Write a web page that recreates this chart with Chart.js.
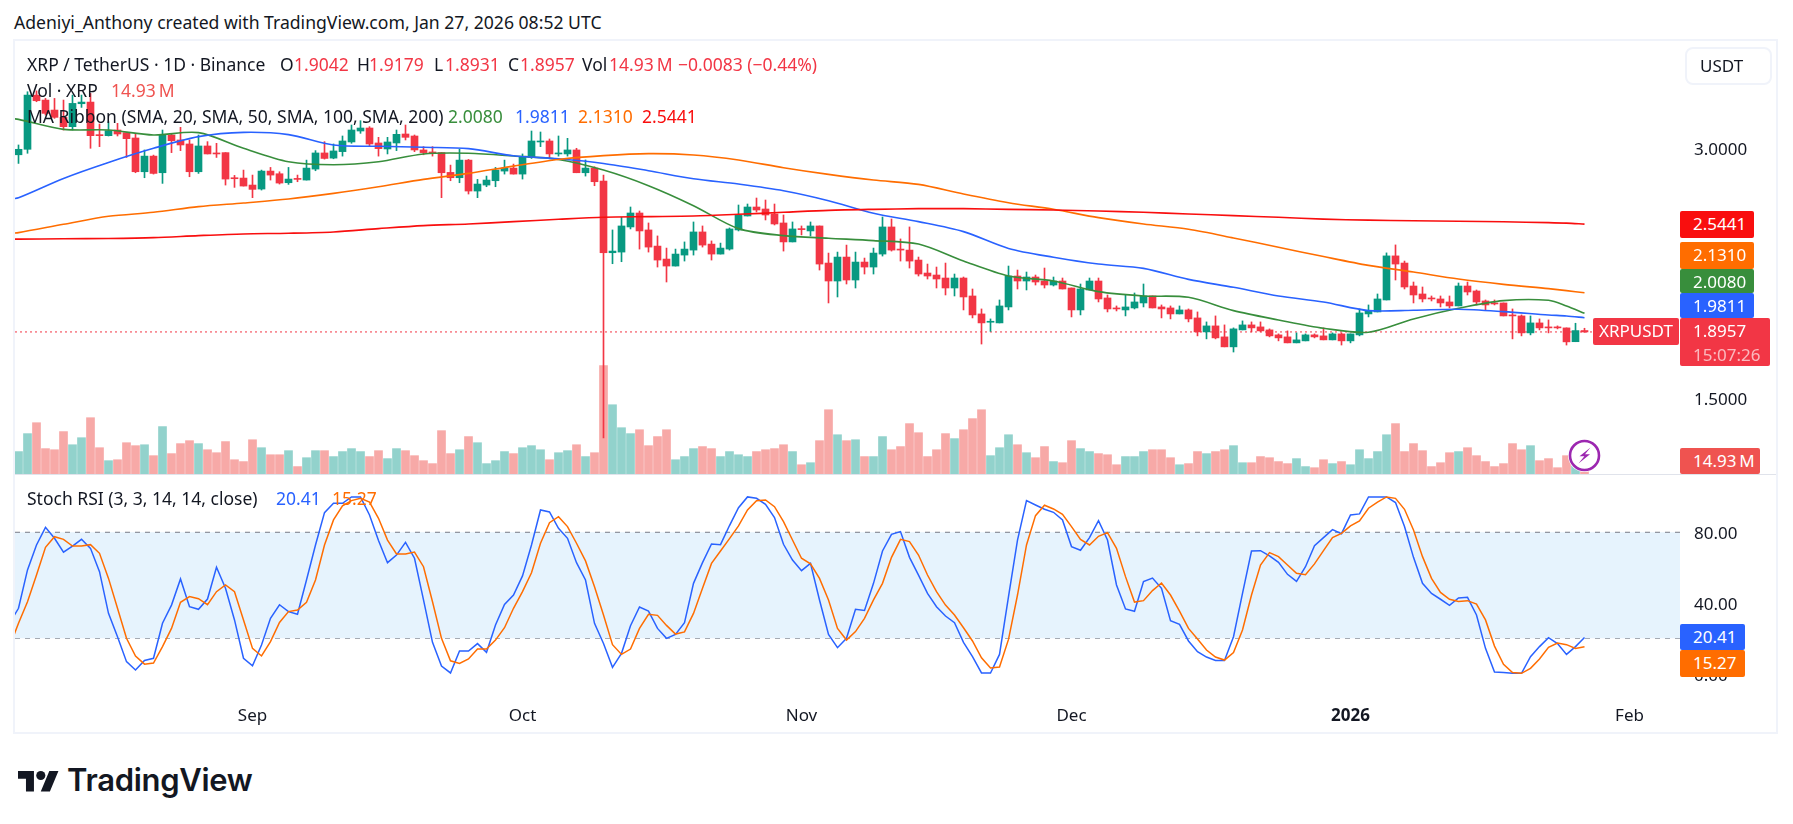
<!DOCTYPE html>
<html>
<head>
<meta charset="utf-8">
<title>XRP / TetherUS</title>
<script src="https://cdn.jsdelivr.net/npm/chart.js@4"></script>
<style>
  html, body { margin: 0; background: #fff; }
  body { width: 1793px; height: 824px; position: relative; overflow: hidden; font-family: "Noto Sans", sans-serif; color: #131722; }
  canvas { position: absolute; left: 15px; }
  #frame { position: absolute; left: 13px; top: 39px; width: 1761px; height: 691px; border: 2px solid #f0f3fa; }
  #divider { position: absolute; left: 15px; top: 474px; width: 1761px; height: 1px; background: #e0e3eb; }
  .line { position: absolute; left: 27px; font-size: 17.5px; line-height: 20px; white-space: nowrap; }
  .line span { position: absolute; top: 0; }
  #credit { position: absolute; left: 14px; top: 12px; font-size: 17.6px; line-height: 20px; white-space: nowrap; }
  .tag { position: absolute; color: #fff; font-size: 17px; line-height: 26px; border-radius: 2px; box-sizing: border-box; padding-left: 13px; white-space: nowrap; }
  #unit { position: absolute; left: 1685px; top: 47px; width: 87px; height: 38px; box-sizing: border-box; border: 2px solid #f0f3fa; border-radius: 8px; padding-left: 13px; font-size: 17px; line-height: 34px; }
  #logo { position: absolute; left: 18px; top: 762px; display: flex; align-items: center; }
  #logo b { font-family: Inter, sans-serif; font-weight: 600; font-size: 31px; letter-spacing: -0.3px; margin-left: 8px; line-height: 36px; }
  #flash { position: absolute; left: 1567px; top: 438px; }
</style>
</head>
<body>
<div id="frame"></div>
<div id="credit">Adeniyi_Anthony created with TradingView.com, Jan 27, 2026 08:52 UTC</div>
<canvas id="chart-price" width="1760" height="433" style="top:41px"></canvas>
<canvas id="chart-stoch" width="1760" height="256" style="top:475px"></canvas>
<div id="divider"></div>
<div id="overlay"></div>
<div id="unit">USDT</div>
<svg id="flash" width="35" height="35" viewBox="0 0 35 35">
  <circle cx="17.5" cy="17.5" r="16.5" fill="#fff"/>
  <circle cx="17.5" cy="17.5" r="14.5" fill="#fff" stroke="#9c27b0" stroke-width="2.6"/>
  <path d="M23.5 9.5 L12.5 18.2 L17.4 18.2 L11.5 25.5 L23 16.2 L18 16.2 Z" fill="#9c27b0"/>
</svg>
<div id="logo">
  <svg width="41" height="32" viewBox="0 0 36 28"><path d="M14 24H7V13H0V6h14v18zM28 24h-8l7.5-18h8L28 24z" fill="#131722"/><circle cx="20" cy="10" r="4" fill="#131722"/></svg>
  <b>TradingView</b>
</div>
<script>
// daily XRP/USDT candles, 6 Aug 2025 to 27 Jan 2026, 25 values to a row
const opens = [
  2.961,2.994,3.320,3.290,3.230,3.186,3.130,3.268,3.278,3.080,3.076,3.110,3.094,3.062,2.859,2.953,2.853,3.080,3.050,3.026,2.859,3.014,2.972,2.974,2.823,
  2.821,2.779,2.755,2.863,2.847,2.793,2.819,2.809,2.875,2.972,2.941,2.980,3.038,3.104,3.122,3.032,2.996,3.032,3.086,3.074,2.990,2.976,2.974,2.855,2.823,
  2.929,2.743,2.779,2.805,2.863,2.881,2.845,2.945,3.038,3.044,2.966,2.966,2.990,2.853,2.881,2.803,2.372,2.376,2.527,2.611,2.509,2.412,2.334,2.292,2.358,
  2.388,2.497,2.424,2.364,2.394,2.509,2.593,2.647,2.635,2.605,2.551,2.437,2.517,2.503,2.533,2.310,2.202,2.346,2.208,2.316,2.286,2.364,2.527,2.394,2.388,
  2.328,2.250,2.238,2.220,2.160,2.220,2.112,2.004,1.954,1.950,2.046,2.232,2.202,2.226,2.202,2.178,2.202,2.160,2.028,2.148,2.202,2.100,2.040,2.028,2.040,
  2.070,2.112,2.046,2.040,2.004,2.028,1.980,1.896,1.932,1.866,1.806,1.908,1.938,1.926,1.908,1.878,1.866,1.830,1.842,1.878,1.872,1.848,1.884,1.842,1.878,
  2.004,2.016,2.088,2.353,2.310,2.172,2.124,2.100,2.094,2.076,2.052,2.172,2.142,2.082,2.068,2.070,1.998,1.992,1.890,1.950,1.926,1.926,1.920,1.837,1.9042
];
const closes = [
  2.994,3.320,3.286,3.210,3.186,3.130,3.270,3.278,3.076,3.076,3.106,3.086,3.058,2.859,2.953,2.849,3.080,3.046,3.020,2.859,3.014,2.966,2.966,2.815,2.817,
  2.773,2.753,2.863,2.839,2.791,2.815,2.813,2.881,2.972,2.939,2.984,3.044,3.110,3.122,3.026,2.998,3.038,3.084,3.066,2.990,2.974,2.972,2.853,2.823,2.929,
  2.743,2.785,2.809,2.869,2.881,2.845,2.949,3.044,3.044,2.966,2.972,2.990,2.853,2.881,2.799,2.372,2.382,2.533,2.611,2.503,2.406,2.328,2.292,2.364,2.394,
  2.497,2.418,2.364,2.400,2.515,2.599,2.647,2.629,2.599,2.545,2.437,2.515,2.511,2.533,2.304,2.202,2.346,2.208,2.316,2.286,2.370,2.527,2.388,2.388,2.322,
  2.244,2.232,2.214,2.160,2.220,2.106,1.998,1.950,1.960,2.052,2.232,2.202,2.226,2.196,2.178,2.202,2.154,2.028,2.154,2.202,2.094,2.034,2.034,2.046,2.076,
  2.112,2.040,2.034,2.004,2.028,1.974,1.896,1.932,1.860,1.806,1.914,1.938,1.920,1.902,1.872,1.860,1.830,1.848,1.878,1.866,1.848,1.884,1.842,1.884,2.010,
  2.022,2.094,2.353,2.304,2.166,2.118,2.094,2.094,2.070,2.052,2.172,2.136,2.076,2.058,2.064,1.992,1.992,1.890,1.950,1.920,1.920,1.920,1.836,1.904,1.8957
];
const highs = [
  3.020,3.340,3.345,3.300,3.300,3.290,3.320,3.320,3.330,3.146,3.160,3.150,3.094,3.086,2.990,2.959,3.110,3.086,3.126,3.050,3.080,3.040,3.030,2.974,2.837,
  2.869,2.839,2.869,2.885,2.859,2.885,2.839,2.929,2.986,3.040,3.026,3.074,3.140,3.166,3.130,3.066,3.066,3.110,3.140,3.080,3.010,3.010,2.974,2.899,2.994,
  2.933,2.813,2.833,2.885,2.929,2.905,2.966,3.104,3.098,3.056,3.074,3.060,3.000,2.930,2.889,2.839,2.509,2.585,2.647,2.623,2.551,2.473,2.400,2.394,2.437,
  2.557,2.533,2.443,2.430,2.521,2.659,2.665,2.701,2.689,2.665,2.599,2.557,2.533,2.557,2.533,2.370,2.376,2.418,2.376,2.340,2.400,2.587,2.575,2.455,2.527,
  2.346,2.304,2.286,2.310,2.244,2.226,2.154,2.034,1.974,2.088,2.292,2.268,2.256,2.238,2.280,2.226,2.220,2.160,2.184,2.220,2.220,2.118,2.052,2.118,2.130,
  2.184,2.112,2.058,2.052,2.052,2.034,2.016,1.956,1.992,1.938,1.920,1.962,1.956,1.956,1.914,1.884,1.902,1.890,1.884,1.884,1.920,1.890,1.890,1.884,2.034,
  2.058,2.124,2.371,2.419,2.322,2.196,2.166,2.112,2.112,2.112,2.190,2.196,2.148,2.088,2.088,2.070,2.034,1.998,1.992,1.974,1.968,1.932,1.920,1.948,1.9179
];
const lows = [
  2.909,2.970,3.280,3.200,3.180,3.110,3.110,3.246,3.000,3.010,3.074,3.074,2.945,2.853,2.823,2.845,2.789,2.974,2.986,2.829,2.849,2.966,2.945,2.779,2.765,
  2.773,2.703,2.749,2.809,2.785,2.783,2.799,2.809,2.865,2.935,2.937,2.953,3.030,3.090,3.014,2.953,2.966,2.986,3.050,2.980,2.961,2.953,2.703,2.805,2.793,
  2.725,2.703,2.769,2.769,2.845,2.845,2.815,2.939,3.010,2.941,2.953,2.953,2.853,2.833,2.775,1.258,2.306,2.318,2.515,2.394,2.376,2.286,2.196,2.292,2.322,
  2.358,2.406,2.328,2.364,2.388,2.503,2.593,2.617,2.569,2.539,2.382,2.437,2.479,2.473,2.268,2.070,2.106,2.184,2.160,2.244,2.244,2.352,2.382,2.322,2.280,
  2.232,2.214,2.160,2.118,2.112,2.028,1.980,1.823,1.899,1.950,2.028,2.154,2.148,2.178,2.160,2.172,2.154,1.986,1.998,2.148,2.076,2.016,2.022,1.992,2.034,
  2.046,2.040,1.980,1.974,2.004,1.956,1.872,1.854,1.854,1.806,1.775,1.908,1.896,1.896,1.866,1.842,1.830,1.830,1.842,1.860,1.848,1.848,1.817,1.830,1.872,
  1.986,2.016,2.088,2.208,2.154,2.070,2.076,2.082,2.046,2.040,2.052,2.118,2.058,2.028,2.058,1.992,1.854,1.872,1.878,1.908,1.890,1.914,1.817,1.837,1.8931
];
// volume in millions of XRP
const volumes = [
  121,218,277,137,131,229,158,196,304,142,72,77,169,153,158,99,256,110,164,180,164,131,115,175,77,
  67,185,142,104,104,126,40,88,126,126,94,121,137,121,94,126,83,137,126,99,72,56,234,110,131,
  202,169,56,72,121,110,142,153,131,77,115,126,158,94,115,585,374,250,218,239,153,202,239,77,94,
  137,148,137,94,121,104,94,121,131,137,158,121,50,61,180,347,212,180,185,94,94,202,131,148,272,
  223,94,131,218,191,239,299,347,99,142,212,158,115,88,148,67,61,180,137,121,110,104,50,94,94,
  121,131,131,88,50,56,121,110,121,131,153,61,61,94,88,67,56,83,40,34,77,56,67,50,131,
  83,121,212,272,121,164,126,40,61,115,121,142,99,67,40,56,164,131,153,72,83,34,99,45,14.93
];
const stochK = [
  37.0,58.7,72.8,82.8,76.6,68.7,72.2,76.0,70.9,57.7,34.1,20.9,6.8,2.1,7.5,8.7,28.5,38.8,53.6,37.9,36.4,42.2,60.2,48.3,30.4,
  8.7,4.5,16.2,31.3,39.0,35.1,33.6,53.0,72.8,91.1,96.4,96.4,100,100,89.8,75.3,62.8,67.1,74.3,65.3,41.7,17.7,4.3,0.4,12.8,
  12.8,17.0,12.1,27.5,39.2,44.5,55.3,72.8,92.6,91.5,82.2,76.6,62.8,53.0,28.5,17.1,3.6,11.5,27.1,37.7,35.4,25.6,20.0,22.2,28.8,
  51.1,62.8,73.4,73.0,83.8,93.9,100,99.2,95.8,88.3,73.2,64.3,58.3,62.4,41.7,22.2,14.7,20.0,36.4,35.8,51.1,69.4,78.8,80.4,65.8,
  55.8,45.4,37.9,32.6,28.8,17.7,9.6,0.4,0.4,10.9,43.6,75.6,97.9,95.4,93.0,91.3,87.0,71.9,69.8,77.0,86.6,75.6,50.2,36.6,35.3,
  52.1,54.1,48.3,30.0,27.9,18.5,12.4,9.4,7.5,7.5,20.9,45.4,69.4,69.6,66.6,63.0,56.2,52.2,60.5,72.4,77.0,81.5,79.2,89.8,90.4,
  100,100,100,96.8,83.2,65.8,51.1,45.4,42.1,38.7,42.8,43.2,33.2,14.3,0.9,0.6,0.2,0.2,9.6,15.3,20.4,17.0,10.9,15.3,20.41
];
const stochD = [
  28.5,40.7,55.8,71.5,77.5,76.0,72.2,72.2,73.0,68.1,53.9,37.0,20.0,10.0,5.4,6.0,15.3,25.6,40.4,43.6,42.4,39.0,46.4,50.2,46.4,
  30.4,14.3,10.0,18.1,29.0,35.1,36.0,40.4,53.0,72.8,87.0,94.9,97.9,99.2,97.1,87.9,75.6,67.7,67.7,68.8,60.5,40.7,20.0,7.3,5.8,
  8.3,13.9,13.9,19.0,26.0,37.0,46.4,57.1,73.8,85.4,88.8,83.2,73.8,63.8,49.2,33.2,16.4,10.9,13.9,25.6,33.6,33.0,27.3,22.4,23.6,
  34.1,48.3,62.4,69.4,76.4,83.6,92.6,97.9,98.3,94.5,86.0,75.6,65.3,62.1,53.9,41.7,25.6,19.0,23.8,31.3,41.7,51.1,65.8,76.0,74.7,
  67.1,55.8,46.4,38.8,33.2,26.0,18.5,9.0,3.2,3.8,19.4,44.5,72.8,89.4,95.3,93.2,90.2,83.2,76.0,72.8,77.7,79.8,70.9,54.9,40.5,
  41.3,47.0,51.3,44.5,35.4,25.6,19.6,13.4,9.4,7.7,11.9,24.7,44.5,61.5,68.5,66.2,61.5,56.8,56.0,62.1,69.6,77.0,79.4,83.6,86.4,
  93.6,97.0,100,99.2,93.0,81.3,66.2,53.9,46.0,42.1,40.9,41.3,39.4,30.4,15.6,5.3,0.6,0.2,3.0,8.3,14.9,17.3,16.4,14.3,15.27
];
// stochastic values the day before the first candle, cut off by the plot edge
const stochKBefore = 28.5;
const stochDBefore = 15.3;

// moving averages are read every fifth day, day 0 being 6 Aug
const maDays = [-1,0,5,10,15,20,25,30,35,40,45,50,55,60,65,70,75,80,85,90,95,100,105,110,115,120,125,130,135,140,145,150,155,160,165,170,172,174];
const sma20 = [3.180,3.174,3.114,3.110,3.080,3.094,3.000,2.919,2.901,2.919,2.966,2.970,2.954,2.933,2.869,2.775,2.655,2.517,2.475,2.459,2.445,2.424,2.322,2.232,2.202,2.138,2.112,2.104,2.024,1.968,1.918,1.894,1.974,2.038,2.084,2.086,2.052,2.0080];
const sma50 = [2.695,2.703,2.819,2.915,3.000,3.070,3.096,3.082,3.020,3.012,3.006,2.998,2.955,2.937,2.909,2.865,2.817,2.785,2.745,2.685,2.609,2.559,2.499,2.398,2.345,2.304,2.278,2.212,2.164,2.112,2.076,2.024,2.026,2.032,2.018,1.998,1.992,1.9811];
const sma100 = [2.488,2.493,2.543,2.591,2.615,2.649,2.671,2.695,2.729,2.769,2.813,2.849,2.893,2.933,2.956,2.968,2.960,2.930,2.883,2.843,2.809,2.783,2.725,2.673,2.633,2.583,2.545,2.513,2.461,2.405,2.349,2.296,2.256,2.214,2.182,2.156,2.144,2.1310];
const sma200 = [2.454,2.454,2.456,2.458,2.463,2.475,2.485,2.489,2.497,2.517,2.535,2.545,2.559,2.573,2.585,2.589,2.593,2.603,2.615,2.627,2.633,2.637,2.637,2.633,2.629,2.623,2.615,2.605,2.595,2.585,2.574,2.568,2.564,2.561,2.558,2.553,2.550,2.5441];

const dateTicks = [26, 56, 87, 117, 148, 179];
const dateLabels = ["Sep", "Oct", "Nov", "Dec", "2026", "Feb"];
const priceTicks = [3, 1.5];
const stochTicks = [80, 40, 0];

const UP = "#089981", DOWN = "#f23645";
const UP_VOL = "#92d2cc", DOWN_VOL = "#f7a9a7";
const GREEN = "#388e3c", BLUE = "#2962ff", ORANGE = "#ff6d00", RED = "#f90e0e";
const FONT = "'Noto Sans', sans-serif";
const last = closes.length - 1;

// 9px per day on a 1665px wide plot
const xRange = { min: -0.389, max: 184.611 };

function isUp(i) { return closes[i] >= opens[i]; }

function lineData(days, series) {
  return series.map((y, i) => ({ x: days[i], y }));
}

function maDataset(label, series, color, order) {
  return { type: "line", label, data: lineData(maDays, series), borderColor: color, borderWidth: 1.6, pointRadius: 0, tension: 0.3, order };
}

function barDataset(label, data, color, thickness, yAxisID, order) {
  return { type: "bar", label, data, backgroundColor: color, barThickness: thickness, grouped: false, minBarLength: 1, borderWidth: 0, yAxisID, order };
}

function level(value, color, extra) {
  return { type: "line", data: [{ x: xRange.min, y: value }, { x: xRange.max, y: value }], borderColor: color, borderWidth: 1, pointRadius: 0, order: 5, ...extra };
}

function baseOptions() {
  return {
    responsive: false,
    animation: false,
    events: [],
    layout: { padding: 0 },
    plugins: { legend: { display: false }, tooltip: { enabled: false } }
  };
}

function valueAxis(ticks, digits, min, max) {
  return {
    type: "linear",
    position: "right",
    offset: false,
    min,
    max,
    grid: { display: false, drawTicks: false },
    border: { display: false },
    afterBuildTicks: axis => { axis.ticks = ticks.map(value => ({ value })); },
    // panes are stacked edge to edge, so tick labels must not pad the plot
    afterFit: axis => { axis.width = 95; axis.paddingTop = 0; axis.paddingBottom = 0; },
    ticks: { color: "#131722", padding: 14, labelOffset: 2, font: { family: FONT, size: 17 }, callback: v => v.toFixed(digits) }
  };
}

function createPriceChart() {
  const days = opens.map((_, i) => i);
  return new Chart(document.getElementById("chart-price"), {
    data: {
      datasets: [
        maDataset("SMA 20", sma20, GREEN, 3),
        maDataset("SMA 50", sma50, BLUE, 2),
        maDataset("SMA 100", sma100, ORANGE, 1),
        maDataset("SMA 200", sma200, RED, 0),
        barDataset("Candle body", days.map(i => ({ x: i, y: [opens[i], closes[i]] })), days.map(i => isUp(i) ? UP : DOWN), 7, "y", 6),
        barDataset("Candle wick", days.map(i => ({ x: i, y: [lows[i], highs[i]] })), days.map(i => isUp(i) ? UP : DOWN), 1, "y", 7),
        level(closes[last], DOWN, { borderDash: [2, 3], order: 8 }),
        barDataset("Volume", days.map(i => ({ x: i, y: volumes[i] })), days.map(i => isUp(i) ? UP_VOL : DOWN_VOL), 8, "volume", 9)
      ]
    },
    options: {
      ...baseOptions(),
      scales: {
        x: { type: "linear", display: false, offset: false, ...xRange },
        y: valueAxis(priceTicks, 4, 1.0415, 3.6452),
        volume: { type: "linear", display: false, offset: false, min: 0, max: 2338 }
      }
    }
  });
}

function createStochChart() {
  const days = stochK.map((_, i) => i);
  return new Chart(document.getElementById("chart-stoch"), {
    data: {
      datasets: [
        { type: "line", data: [{ x: -1, y: stochKBefore }, ...lineData(days, stochK)], borderColor: BLUE, borderWidth: 1.5, pointRadius: 0, order: 1 },
        { type: "line", data: [{ x: -1, y: stochDBefore }, ...lineData(days, stochD)], borderColor: ORANGE, borderWidth: 1.5, pointRadius: 0, order: 0 },
        level(80, "#787b86", { borderDash: [5, 5], fill: { target: { value: 20 }, above: "#e6f3fd", below: "#e6f3fd" } }),
        level(50, "#b2b5be", { borderDash: [5, 5] }),
        level(20, "#787b86", { borderDash: [5, 5] })
      ]
    },
    options: {
      ...baseOptions(),
      scales: {
        x: {
          type: "linear",
          ...xRange,
          grid: { display: false, drawTicks: false },
          border: { display: false },
          afterBuildTicks: axis => { axis.ticks = dateTicks.map(value => ({ value })); },
          afterFit: axis => { axis.height = 31; },
          ticks: {
            color: "#131722",
            padding: 6,
            maxRotation: 0,
            autoSkip: false,
            font: ctx => ({ family: FONT, size: 17, weight: dateLabels[ctx.index] === "2026" ? "bold" : "normal" }),
            callback: (v, i) => dateLabels[i]
          }
        },
        y: valueAxis(stochTicks, 2, -14.9, 112.4)
      }
    }
  });
}

function addLegendLine(top, parts) {
  const line = document.createElement("div");
  line.className = "line";
  line.style.top = top + "px";
  parts.forEach(([text, left, color]) => {
    const span = document.createElement("span");
    span.textContent = text;
    span.style.left = left + "px";
    if (color) span.style.color = color;
    line.appendChild(span);
  });
  document.getElementById("overlay").appendChild(line);
}

function addTag(text, left, top, width, height, color, sub, pad) {
  const tag = document.createElement("div");
  tag.className = "tag";
  tag.style.cssText = `left:${left}px;top:${top}px;width:${width}px;height:${height}px;background:${color}`;
  if (pad !== undefined) tag.style.paddingLeft = pad + "px";
  tag.textContent = text;
  if (sub) {
    const second = document.createElement("div");
    second.textContent = sub;
    second.style.cssText = "color:rgba(255,255,255,0.65);line-height:22px";
    tag.appendChild(second);
  }
  document.getElementById("overlay").appendChild(tag);
}

function drawLabels() {
  const volText = "14.93\u2009M";
  addLegendLine(54, [
    ["XRP / TetherUS · 1D · Binance", 0],
    ["O", 253], [opens[last].toFixed(4), 267, DOWN],
    ["H", 330], [highs[last].toFixed(4), 342, DOWN],
    ["L", 407], [lows[last].toFixed(4), 418, DOWN],
    ["C", 481], [closes[last].toFixed(4), 493, DOWN],
    ["Vol", 555], [volText, 582, DOWN],
    ["−0.0083 (−0.44%)", 651, DOWN]
  ]);
  addLegendLine(80, [["Vol · XRP", 0], [volText, 84, "#ef5350"]]);
  addLegendLine(106, [
    ["MA Ribbon (SMA, 20, SMA, 50, SMA, 100, SMA, 200)", 0],
    [sma20[sma20.length - 1].toFixed(4), 421, GREEN],
    [sma50[sma50.length - 1].toFixed(4), 488, BLUE],
    [sma100[sma100.length - 1].toFixed(4), 551, ORANGE],
    [sma200[sma200.length - 1].toFixed(4), 615, RED]
  ]);
  addLegendLine(488, [
    ["Stoch RSI (3, 3, 14, 14, close)", 0],
    [stochK[last].toFixed(2), 249, BLUE],
    [stochD[last].toFixed(2), 305, ORANGE]
  ]);

  addTag(sma200[sma200.length - 1].toFixed(4), 1680, 211, 74, 27, RED);
  addTag(sma100[sma100.length - 1].toFixed(4), 1680, 242, 74, 27, ORANGE);
  addTag(sma20[sma20.length - 1].toFixed(4), 1680, 269, 74, 24, GREEN);
  addTag(sma50[sma50.length - 1].toFixed(4), 1680, 293, 74, 25, BLUE);
  addTag(closes[last].toFixed(4), 1680, 318, 90, 48, DOWN, "15:07:26");
  addTag("XRPUSDT", 1593, 318, 86, 27, DOWN, null, 6);
  addTag(volText, 1680, 448, 80, 26, "#ef5350");
  addTag(stochK[last].toFixed(2), 1680, 624, 65, 26, BLUE);
  addTag(stochD[last].toFixed(2), 1680, 650, 65, 27, ORANGE);
}

createPriceChart();
createStochChart();
drawLabels();
</script>
</body>
</html>
